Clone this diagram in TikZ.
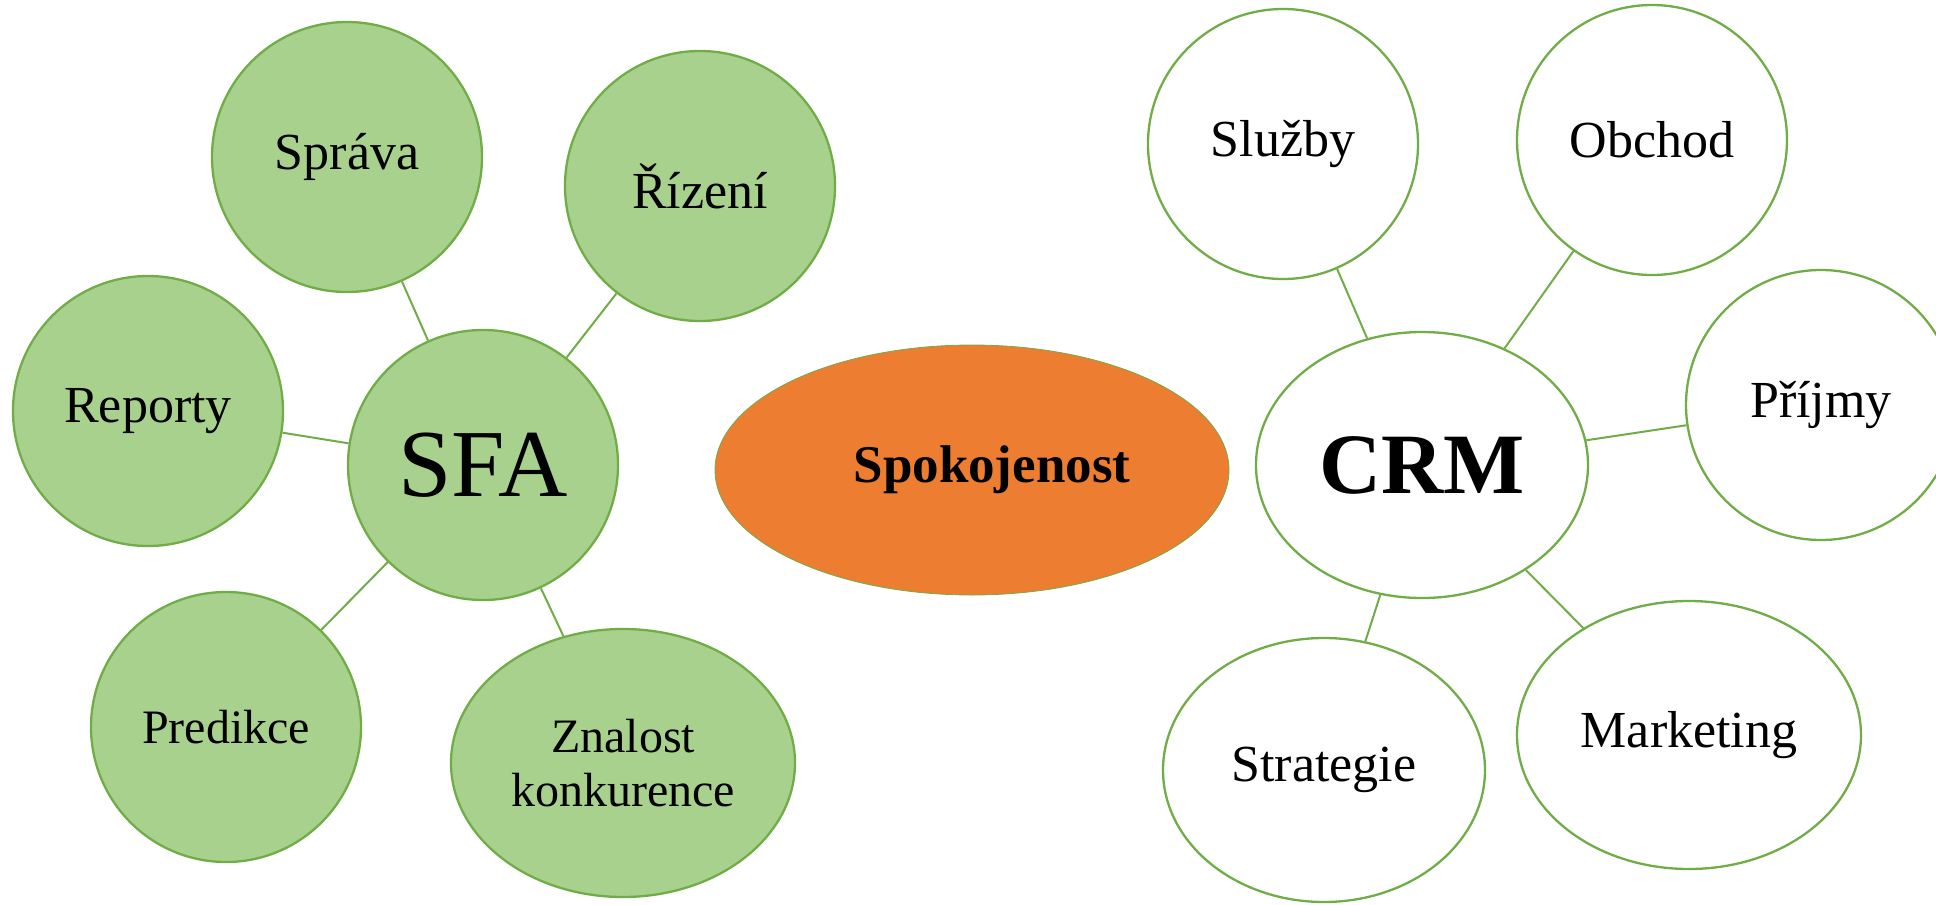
\documentclass[tikz,border=0pt]{standalone}
\usepackage{fontspec}
\setmainfont{Liberation Serif}
\usetikzlibrary{shapes.geometric}
\definecolor{leaf}{HTML}{A9D18E}
\definecolor{stem}{HTML}{70AD47}
\definecolor{sun}{HTML}{ED7D31}

\begin{document}
\begin{tikzpicture}[x=1pt,y=-1pt,
	bubble/.style={circle,draw=stem,line width=2.3pt,inner sep=0pt,minimum size=270pt,align=center,font=\fontsize{52}{54}\selectfont},
	oval/.style={ellipse,draw=stem,line width=2.3pt,inner sep=0pt,align=center,font=\fontsize{52}{54}\selectfont},
	link/.style={draw=stem,line width=2pt}]
				\useasboundingbox (0,0) rectangle (1936,905);
				
				% SFA side
				\node[bubble,fill=leaf,font=\fontsize{96}{96}\selectfont] (sfa) at (483,465) {SFA};
				\node[bubble,fill=leaf] (sprava) at (347,157) {Správa};
				\node[bubble,fill=leaf] (rizeni) at (700,186) {Řízení};
				\node[bubble,fill=leaf] (reporty) at (148,411) {Reporty};
				\node[bubble,fill=leaf,font=\fontsize{48}{54}\selectfont] (predikce) at (226,727) {Predikce};
				\node[oval,fill=leaf,minimum width=344pt,minimum height=268pt,font=\fontsize{48}{54}\selectfont] (znalost) at (623,763) {Znalost\\konkurence};
				
				\node[oval,fill=sun,line width=0.8pt,minimum width=514pt,minimum height=250pt,
					label={[font=\fontsize{53}{53}\selectfont\bfseries,xshift=20pt]center:Spokojenost}] (spokojenost) at (972,470) {};
				
				% CRM side
				\node[oval,fill=white,minimum width=332pt,minimum height=266pt,font=\fontsize{86}{86}\selectfont\bfseries] (crm) at (1422,465) {CRM};
				\node[bubble,fill=white] (sluzby) at (1283,144) {Služby};
				\node[bubble,fill=white] (obchod) at (1652,140) {Obchod};
				\node[bubble,fill=white] (prijmy) at (1821,405) {Příjmy};
				\node[oval,fill=white,minimum width=344pt,minimum height=268pt] (marketing) at (1689,735) {Marketing};
				\node[oval,fill=white,minimum width=322pt,minimum height=264pt] (strategie) at (1324,770) {Strategie};
				
				\foreach \x in {sprava,rizeni,reporty,predikce,znalost}{
					\draw[link] (sfa) -- (\x);}
				
				\foreach \x in {sluzby,obchod,prijmy,marketing,strategie}{
					\draw[link] (crm) -- (\x);}
			\end{tikzpicture}
\end{document}
